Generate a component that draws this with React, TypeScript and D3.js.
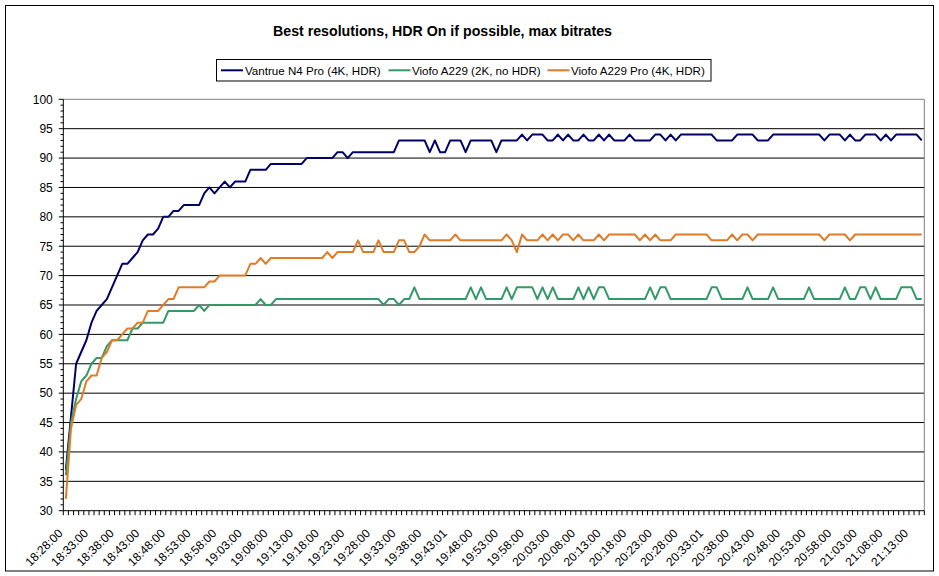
import * as d3 from 'd3';

// category labels (every 5th sample)
const tickLabels = [
  '18:28:00', '18:33:00', '18:38:00', '18:43:00', '18:48:00', '18:53:00', '18:58:00',
  '19:03:00', '19:08:00', '19:13:00', '19:18:00', '19:23:00', '19:28:00', '19:33:00',
  '19:38:00', '19:43:01', '19:48:00', '19:53:00', '19:58:00', '20:03:00', '20:08:00',
  '20:13:00', '20:18:00', '20:23:00', '20:28:00', '20:33:01', '20:38:00', '20:43:00',
  '20:48:00', '20:53:00', '20:58:00', '21:03:00', '21:08:00', '21:13:00',
];

const vantrueN4Pro = [
  37, 46, 55, 57, 59, 62, 64, 65, 66, 68,
  70, 72, 72, 73, 74, 76, 77, 77, 78, 80,
  80, 81, 81, 82, 82, 82, 82, 84, 85, 84,
  85, 86, 85, 86, 86, 86, 88, 88, 88, 88,
  89, 89, 89, 89, 89, 89, 89, 90, 90, 90,
  90, 90, 90, 91, 91, 90, 91, 91, 91, 91,
  91, 91, 91, 91, 91, 93, 93, 93, 93, 93,
  93, 91, 93, 91, 91, 93, 93, 93, 91, 93,
  93, 93, 93, 93, 91, 93, 93, 93, 93, 94,
  93, 94, 94, 94, 93, 93, 94, 93, 94, 93,
  93, 94, 93, 93, 94, 93, 94, 93, 93, 93,
  94, 93, 93, 93, 93, 94, 94, 93, 94, 93,
  94, 94, 94, 94, 94, 94, 94, 93, 93, 93,
  93, 94, 94, 94, 94, 93, 93, 93, 94, 94,
  94, 94, 94, 94, 94, 94, 94, 94, 93, 94,
  94, 94, 93, 94, 93, 93, 94, 94, 94, 93,
  94, 93, 94, 94, 94, 94, 94, 93,
];

const viofoA229 = [
  36, 45, 49, 52, 53, 55, 56, 56, 58, 59,
  59, 59, 59, 61, 61, 62, 62, 62, 62, 62,
  64, 64, 64, 64, 64, 64, 65, 64, 65, 65,
  65, 65, 65, 65, 65, 65, 65, 65, 66, 65,
  65, 66, 66, 66, 66, 66, 66, 66, 66, 66,
  66, 66, 66, 66, 66, 66, 66, 66, 66, 66,
  66, 66, 65, 66, 66, 65, 66, 66, 68, 66,
  66, 66, 66, 66, 66, 66, 66, 66, 66, 68,
  66, 68, 66, 66, 66, 66, 68, 66, 68, 68,
  68, 68, 66, 68, 66, 68, 66, 66, 66, 66,
  68, 66, 68, 66, 68, 68, 66, 66, 66, 66,
  66, 66, 66, 66, 68, 66, 68, 68, 66, 66,
  66, 66, 66, 66, 66, 66, 68, 68, 66, 66,
  66, 66, 66, 68, 66, 66, 66, 66, 68, 66,
  66, 66, 66, 66, 66, 68, 66, 66, 66, 66,
  66, 66, 68, 66, 66, 68, 68, 66, 68, 66,
  66, 66, 66, 68, 68, 68, 66, 66,
];

const viofoA229Pro = [
  32, 44, 48, 49, 52, 53, 53, 56, 57, 59,
  59, 60, 61, 61, 62, 62, 64, 64, 64, 65,
  66, 66, 68, 68, 68, 68, 68, 68, 69, 69,
  70, 70, 70, 70, 70, 70, 72, 72, 73, 72,
  73, 73, 73, 73, 73, 73, 73, 73, 73, 73,
  73, 74, 73, 74, 74, 74, 74, 76, 74, 74,
  74, 76, 74, 74, 74, 76, 76, 74, 74, 75,
  77, 76, 76, 76, 76, 76, 77, 76, 76, 76,
  76, 76, 76, 76, 76, 76, 77, 76, 74, 77,
  76, 76, 76, 77, 76, 77, 76, 77, 77, 76,
  77, 76, 76, 76, 77, 76, 77, 77, 77, 77,
  77, 77, 76, 77, 76, 77, 76, 76, 76, 77,
  77, 77, 77, 77, 77, 77, 76, 76, 76, 76,
  77, 76, 77, 77, 76, 77, 77, 77, 77, 77,
  77, 77, 77, 77, 77, 77, 77, 77, 76, 77,
  77, 77, 77, 76, 77, 77, 77, 77, 77, 77,
  77, 77, 77, 77, 77, 77, 77, 77,
];

const seriesNames = ['Vantrue N4 Pro (4K, HDR)', 'Viofo A229 (2K, no HDR)', 'Viofo A229 Pro (4K, HDR)'];
const seriesColors = ['#000066', '#339966', '#E07B27'];
const yTickValues = [30, 35, 40, 45, 50, 55, 60, 65, 70, 75, 80, 85, 90, 95, 100];

const FONT = '"Liberation Sans", Arial, sans-serif';

export default function App() {
  const width = 939;
  const height = 576;
  const plot = { left: 63.3, right: 924.3, top: 99.3, bottom: 510.7 };

  const series = [vantrueN4Pro, viofoA229, viofoA229Pro];
  const n = vantrueN4Pro.length;

  const x = d3.scaleBand<number>().domain(d3.range(n)).range([plot.left, plot.right]);
  const cx = (i: number) => (x(i) as number) + x.bandwidth() / 2;
  const y = d3.scaleLinear().domain([30, 100]).range([plot.bottom, plot.top]);

  const line = d3
    .line<number>()
    .x((_, i) => cx(i))
    .y((d) => y(d));

  const minorTicks = y.ticks(70).filter((v) => v % 5 !== 0);
  const xTickEdges = d3.range(n + 1).map((i) => plot.left + i * x.step());

  // legend layout
  const legendItems = [
    { lineX: 221, textX: 245 },
    { lineX: 388.5, textX: 412 },
    { lineX: 547.5, textX: 571 },
  ];

  return (
    <div style={{ position: 'absolute', left: 0, top: 0 }}>
      <svg width={width} height={height} style={{ display: 'block', background: '#fff' }} fontFamily={FONT}>
        <rect x={5.5} y={5.5} width={928} height={565.5} fill="#fff" stroke="#000" strokeWidth={1} />

        <text x={442.5} y={36} textAnchor="middle" fontSize={14.2} fontWeight="bold" fill="#000">
          Best resolutions, HDR On if possible, max bitrates
        </text>

        {/* legend */}
        <rect x={216.5} y={59.5} width={494.5} height={21.5} fill="#fff" stroke="#000" strokeWidth={1} />
        {legendItems.map((it, k) => (
          <g key={k}>
            <line x1={it.lineX} x2={it.lineX + 22} y1={70.3} y2={70.3} stroke={seriesColors[k]} strokeWidth={2} />
            <text x={it.textX} y={74.6} fontSize={11.6} fill="#000">
              {seriesNames[k]}
            </text>
          </g>
        ))}

        {/* grid lines */}
        {yTickValues
          .filter((v) => v > 30 && v < 100)
          .map((v) => (
            <line key={v} x1={plot.left} x2={plot.right} y1={y(v)} y2={y(v)} stroke="#000" strokeWidth={1} />
          ))}

        {/* plot border top / right */}
        <line x1={plot.left} x2={plot.right} y1={plot.top} y2={plot.top} stroke="#808080" strokeWidth={1} />
        <line x1={plot.right} x2={plot.right} y1={plot.top} y2={plot.bottom} stroke="#808080" strokeWidth={1} />

        {/* y axis */}
        <line x1={plot.left} x2={plot.left} y1={plot.top} y2={plot.bottom} stroke="#000" strokeWidth={1} />
        {yTickValues.map((v) => (
          <g key={v}>
            <line x1={plot.left - 4.5} x2={plot.left} y1={y(v)} y2={y(v)} stroke="#000" strokeWidth={1} />
            <text x={52.8} y={y(v)} dy="0.36em" textAnchor="end" fontSize={12} fill="#000">
              {v}
            </text>
          </g>
        ))}
        {minorTicks.map((v) => (
          <line key={v} x1={plot.left - 2.8} x2={plot.left} y1={y(v)} y2={y(v)} stroke="#000" strokeWidth={1} />
        ))}

        {/* x axis */}
        <line x1={plot.left} x2={plot.right} y1={plot.bottom} y2={plot.bottom} stroke="#000" strokeWidth={1} />
        {xTickEdges.map((xx, i) => (
          <line key={i} x1={xx} x2={xx} y1={plot.bottom} y2={plot.bottom + 4.5} stroke="#000" strokeWidth={1} />
        ))}
        {tickLabels.map((lab, k) => {
          const px = cx(k * 5) - 2.5;
          const py = 534;
          return (
            <text
              key={lab}
              transform={`translate(${px},${py}) rotate(-45)`}
              textAnchor="end"
              fontSize={12}
              fill="#000"
            >
              {lab}
            </text>
          );
        })}

        {/* series */}
        {series.map((s, k) => (
          <path
            key={k}
            d={line(s) || ''}
            fill="none"
            stroke={seriesColors[k]}
            strokeWidth={2}
            strokeLinejoin="round"
          />
        ))}
      </svg>
    </div>
  );
}
